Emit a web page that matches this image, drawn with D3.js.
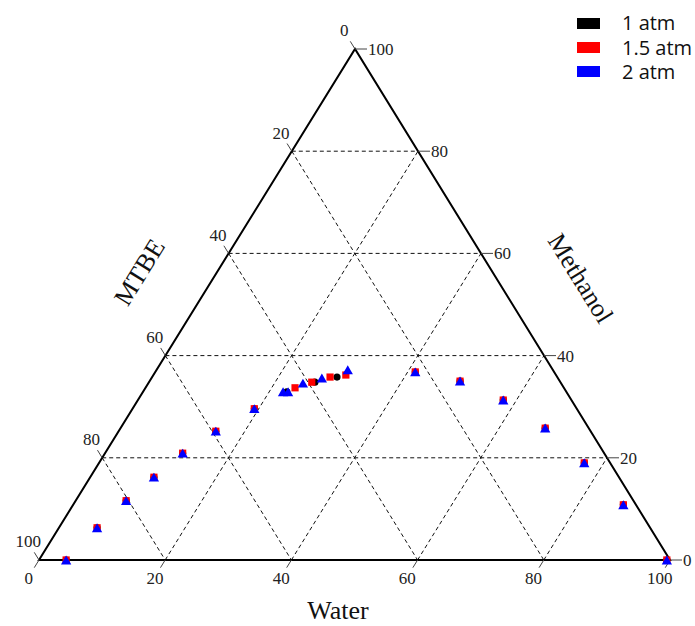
<!DOCTYPE html>
<html>
<head>
<meta charset="utf-8">
<script src="https://cdn.jsdelivr.net/npm/d3@7"></script>
<style>
	body { margin: 0; background: #fff; }
	.tick_label { font-family: "Liberation Serif", serif; font-size: 17px; fill: #222; }
	.axis_title { font-family: "Liberation Serif", serif; font-size: 26px; fill: #111; }
	.legend_text { font-family: "Open Sans", sans-serif; font-size: 20px; fill: #111; }
</style>
</head>
<body>
<div id="chart"></div>
<script>

// tick values (same on all three sides)
let ticks = [0, 20, 40, 60, 80, 100];

// series: water % and methanol % (MTBE is the rest)
let series_names = ["1 atm", "1.5 atm", "2 atm"];
let series_colors = ["#000000", "#ff0000", "#0000ff"];

let water_1atm = [4.3, 6.05, 8.0, 10.1, 12.3, 15.4, 19.3, 22.8, 26.3, 29.3, 41.2, 49.2, 57.9, 67.3, 76.9, 87.2, 99.5];
let methanol_1atm = [0, 6.3, 11.6, 16.2, 20.9, 25.2, 29.6, 32.9, 34.8, 35.8, 36.8, 35.0, 31.3, 25.8, 19.0, 10.8, 0];

let water_15atm = [4.3, 6.05, 8.0, 10.1, 12.3, 15.4, 19.3, 23.7, 25.8, 28.2, 30.5, 41.2, 49.2, 57.9, 67.3, 76.9, 87.2, 99.5];
let methanol_15atm = [0, 6.3, 11.6, 16.2, 20.9, 25.2, 29.6, 33.7, 34.8, 35.8, 36.2, 36.8, 35.0, 31.3, 25.8, 19.0, 10.8, 0];

let water_2atm = [4.3, 6.05, 8.0, 10.1, 12.3, 15.4, 19.3, 22.2, 23.0, 24.5, 27.0, 30.3, 41.2, 49.2, 57.9, 67.3, 76.9, 87.2, 99.5];
let methanol_2atm = [0, 6.3, 11.6, 16.2, 20.9, 25.2, 29.6, 32.9, 32.9, 34.6, 35.6, 37.2, 36.8, 35.0, 31.3, 25.8, 19.0, 10.8, 0];

let width = 695, height = 626;

let svg = d3.select("#chart")
	.append("svg")
	.attr("width", width)
	.attr("height", height);

//scales: water along the bottom, methanol up to the top vertex
let water_x = d3.scaleLinear().domain([0, 100]).range([39, 670]);
let meth_shift = d3.scaleLinear().domain([0, 100]).range([0, 316]);
let meth_y = d3.scaleLinear().domain([0, 100]).range([560, 49]);

function proj(w, m) {
	return [water_x(w) + meth_shift(m), meth_y(m)];
}

let line = d3.line();

//dashed grid lines
let grid = svg.append("g")
	.attr("fill", "none")
	.attr("stroke", "#111")
	.attr("stroke-width", 1)
	.attr("stroke-dasharray", "4,3");

ticks.slice(1, -1).forEach(v => {
	// constant methanol (horizontal)
	grid.append("path").attr("d", line([proj(0, v), proj(100 - v, v)]));
	// constant water
	grid.append("path").attr("d", line([proj(v, 0), proj(v, 100 - v)]));
	// constant MTBE
	grid.append("path").attr("d", line([proj(0, 100 - v), proj(100 - v, 0)]));
});

//triangle outline
svg.append("path")
	.attr("d", line([proj(0, 0), proj(100, 0), proj(0, 100)]) + "Z")
	.attr("fill", "none")
	.attr("stroke", "#000")
	.attr("stroke-width", 2)
	.attr("stroke-linejoin", "miter");

//ticks and labels
let tick_g = svg.append("g");
let dl = [-0.525, -0.851]; // outward direction on the left side
let db = [-0.526, 0.851];  // outward direction on the bottom
let tl = 9;

ticks.forEach(v => {
	// bottom: water
	let p = proj(v, 0);
	let e = [p[0] + db[0] * tl, p[1] + db[1] * tl];
	tick_g.append("path").attr("d", line([p, e])).attr("stroke", "#444");
	tick_g.append("text").attr("class", "tick_label")
		.attr("x", e[0] - 5.5).attr("y", e[1] + 16)
		.attr("text-anchor", "middle").text(v);

	// left: MTBE
	p = proj(0, 100 - v);
	e = [p[0] + dl[0] * tl, p[1] + dl[1] * tl];
	tick_g.append("path").attr("d", line([p, e])).attr("stroke", "#444");
	tick_g.append("text").attr("class", "tick_label")
		.attr("x", e[0] - 6).attr("y", e[1] - 5)
		.attr("text-anchor", "middle").text(v);

	// right: methanol
	p = proj(100 - v, v);
	e = [p[0] + 12, p[1]];
	tick_g.append("path").attr("d", line([p, e])).attr("stroke", "#444");
	tick_g.append("text").attr("class", "tick_label")
		.attr("x", e[0] + 1).attr("y", e[1] + 6)
		.attr("text-anchor", "start").text(v);
});

//axis titles
svg.append("text").attr("class", "axis_title")
	.attr("text-anchor", "middle")
	.attr("x", 338).attr("y", 619)
	.text("Water");

svg.append("text").attr("class", "axis_title")
	.attr("text-anchor", "middle")
	.attr("dy", "0.35em")
	.attr("transform", "translate(139,272) rotate(-58.3)")
	.text("MTBE");

svg.append("text").attr("class", "axis_title")
	.attr("text-anchor", "middle")
	.attr("dy", "0.35em")
	.attr("transform", "translate(581,278) rotate(58.3)")
	.text("Methanol");

//data points
let all_series = [
	{water: water_1atm, methanol: methanol_1atm, symbol: d3.symbolCircle, size: 40, dy: 0},
	{water: water_15atm, methanol: methanol_15atm, symbol: d3.symbolSquare, size: 52, dy: 0},
	{water: water_2atm, methanol: methanol_2atm, symbol: d3.symbolTriangle, size: 46, dy: 1.4}
];

all_series.forEach((s, i) => {
	let pts = s.water.map((w, j) => proj(w, s.methanol[j]));
	svg.append("g").selectAll("path")
		.data(pts)
		.enter()
		.append("path")
		.attr("d", d3.symbol().type(s.symbol).size(s.size))
		.attr("transform", d => "translate(" + d[0] + "," + (d[1] + s.dy) + ")")
		.attr("fill", series_colors[i]);
});

//legend
let legend = svg.append("g");
series_names.forEach((name, i) => {
	legend.append("rect")
		.attr("x", 577).attr("y", 18 + i * 24)
		.attr("width", 23).attr("height", 11)
		.attr("fill", series_colors[i]);
	legend.append("text").attr("class", "legend_text")
		.attr("x", 622).attr("y", 30 + i * 24.5)
		.text(name);
});

</script>
</body>
</html>
